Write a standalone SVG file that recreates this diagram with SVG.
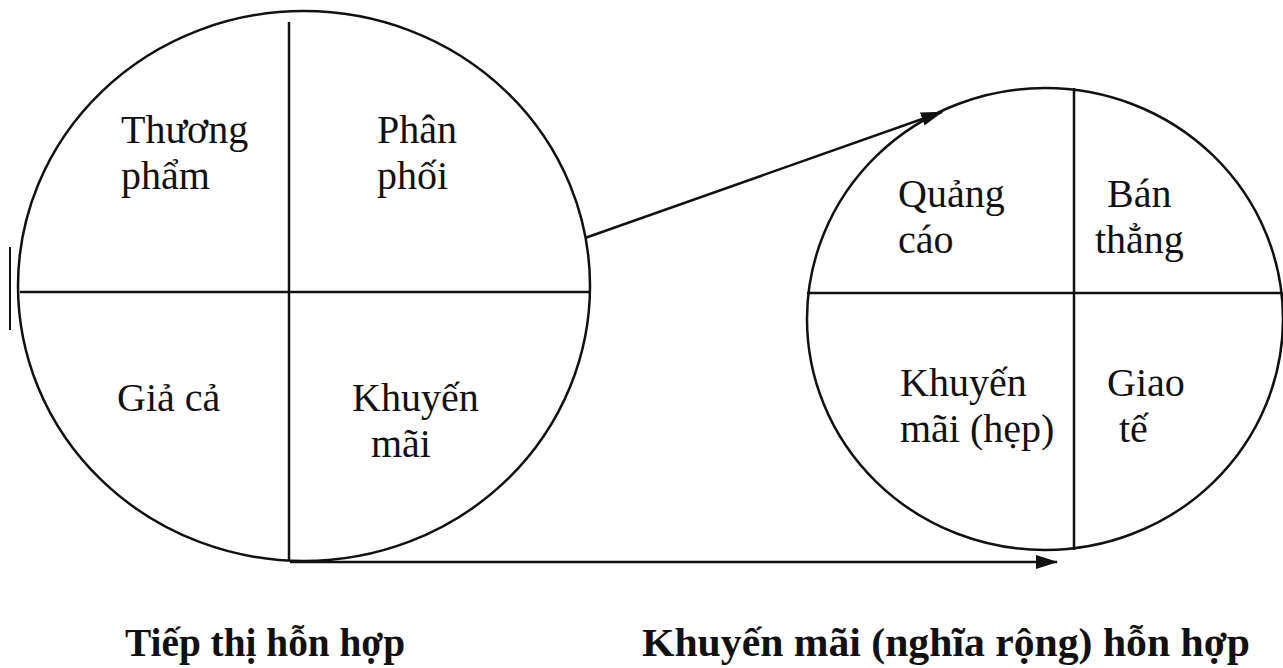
<svg xmlns="http://www.w3.org/2000/svg" width="1283" height="668" viewBox="0 0 1283 668">
<style>
.shape{fill:none;stroke:#111;stroke-width:2.5}
.div{stroke:#111;stroke-width:2.5}
.lbl{font-family:"Liberation Serif","Times New Roman",serif;font-size:40px;fill:#111}
.cap{font-family:"Liberation Serif","Times New Roman",serif;font-size:40px;font-weight:bold;fill:#111}
.conn{stroke:#111;stroke-width:2.5;fill:none}
</style>
<defs>
<marker id="arr" viewBox="0 0 22 14" refX="21" refY="7" markerWidth="22" markerHeight="14" markerUnits="userSpaceOnUse" orient="auto">
<path d="M0,0 L22,7 L0,14 z" fill="#111"/>
</marker>
</defs>
<rect width="1283" height="668" fill="#fff"/>
<line x1="10" y1="247" x2="10" y2="330" stroke="#111" stroke-width="2"/>
<g id="marketing-mix">
<ellipse class="shape" cx="304" cy="286" rx="286" ry="275"/>
<line class="div" x1="20" y1="292" x2="589" y2="292"/>
<line class="div" x1="289" y1="22" x2="289" y2="561"/>
<text class="lbl" x="121" y="143">Thương</text>
<text class="lbl" x="121" y="189">phẩm</text>
<text class="lbl" x="377" y="143">Phân</text>
<text class="lbl" x="377" y="189">phối</text>
<text class="lbl" x="117" y="411">Giả cả</text>
<text class="lbl" x="352" y="411">Khuyến</text>
<text class="lbl" x="371" y="457">mãi</text>
</g>
<g id="promotion-mix">
<ellipse class="shape" cx="1045" cy="319" rx="238" ry="231"/>
<line class="div" x1="807" y1="293" x2="1283" y2="293"/>
<line class="div" x1="1074" y1="88" x2="1074" y2="550"/>
<text class="lbl" x="898" y="207">Quảng</text>
<text class="lbl" x="898" y="253">cáo</text>
<text class="lbl" x="1107" y="207">Bán</text>
<text class="lbl" x="1095" y="253">thẳng</text>
<text class="lbl" x="900" y="396">Khuyến</text>
<text class="lbl" x="900" y="442">mãi (hẹp)</text>
<text class="lbl" x="1107" y="396">Giao</text>
<text class="lbl" x="1119" y="442">tế</text>
</g>
<g id="connectors">
<line class="conn" x1="585" y1="238" x2="942" y2="112" marker-end="url(#arr)"/>
<line class="conn" x1="290" y1="562" x2="1057" y2="562" marker-end="url(#arr)"/>
</g>
<g id="captions">
<text class="cap" x="125" y="656" textLength="280" lengthAdjust="spacingAndGlyphs">Tiếp thị hỗn hợp</text>
<text class="cap" x="642" y="656" textLength="608" lengthAdjust="spacingAndGlyphs">Khuyến mãi (nghĩa rộng) hỗn hợp</text>
</g>
</svg>
